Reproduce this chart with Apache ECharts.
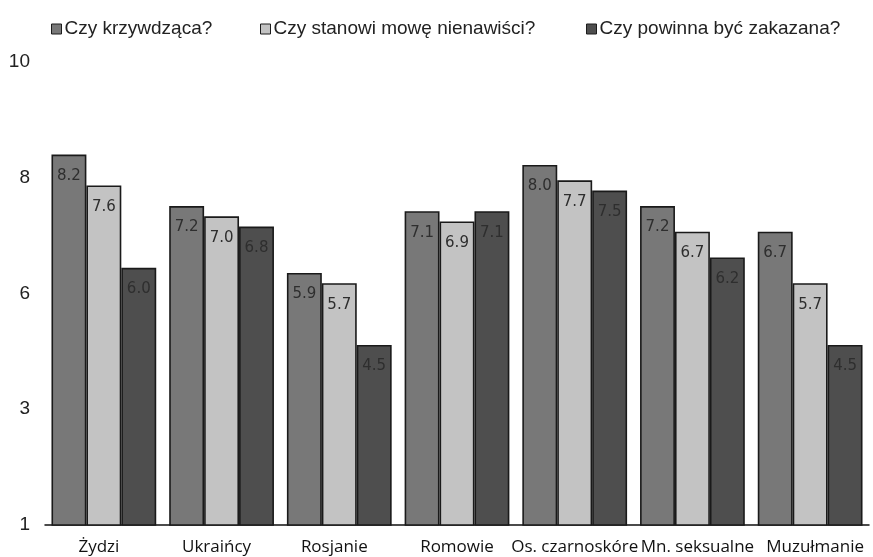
<!DOCTYPE html>
<html>
<head>
<meta charset="utf-8">
<script src="https://cdn.jsdelivr.net/npm/echarts@6/dist/echarts.min.js"></script>
<style>
html,body{margin:0;padding:0;background:#fff;}
#chart{width:873px;height:557px;}
</style>
</head>
<body>
<div id="chart"></div>
<script>
const categories = ['Żydzi', 'Ukraińcy', 'Rosjanie', 'Romowie', 'Os. czarnoskóre', 'Mn. seksualne', 'Muzułmanie'];
const seriesNames = ['Czy krzywdząca?', 'Czy stanowi mowę nienawiści?', 'Czy powinna być zakazana?'];
const krzywdzaca = [8.2, 7.2, 5.9, 7.1, 8.0, 7.2, 6.7];
const mowaNienawisci = [7.6, 7.0, 5.7, 6.9, 7.7, 6.7, 5.7];
const zakazana = [6.0, 6.8, 4.5, 7.1, 7.5, 6.2, 4.5];
const seriesValues = [krzywdzaca, mowaNienawisci, zakazana];
const colors = ['#787878', '#c3c3c3', '#4e4e4e'];
const legendLefts = [46, 255, 581];
// label style per category (slight left / right nudges like the original)
const labelStyleKeys = ['l', 'l', 'l', 'c', 'c', 'r', 'r'];

const chart = echarts.init(document.getElementById('chart'), null, {renderer: 'canvas'});

const legends = seriesNames.map((n, i) => ({
  data: [n],
  left: legendLefts[i],
  top: 14,
  itemWidth: 10,
  itemHeight: 10,
  icon: 'rect',
  selectedMode: false,
  itemStyle: {borderColor: '#1c1c1c', borderWidth: 1},
  textStyle: {fontFamily: 'Liberation Sans', fontSize: 19, color: '#222', lineHeight: 20, padding: [0, 0, 0, -2]}
}));

const series = seriesNames.map((n, i) => ({
  name: n,
  type: 'bar',
  data: seriesValues[i],
  barGap: '0%',
  barCategoryGap: '11%',
  itemStyle: {color: colors[i], borderColor: '#1a1a1a', borderWidth: 1.6},
  label: {
    show: true,
    position: 'insideTop',
    distance: 14,
    fontFamily: 'DejaVu Sans',
    fontSize: 15,
    color: '#2e2e2e',
    formatter: p => p.value.toFixed(1)
  }
}));

const labelFont = {fontFamily: 'Open Sans', fontSize: 17, color: '#111'};

chart.setOption({
  animation: false,
  backgroundColor: '#fff',
  legend: legends,
  grid: {left: 45, right: 4, top: 62, bottom: 32, containLabel: false},
  xAxis: {
    type: 'category',
    data: categories,
    axisLine: {show: true, lineStyle: {color: '#111', width: 1.5}},
    axisTick: {show: false},
    axisLabel: {
      interval: 0, margin: 14,
      fontFamily: 'Open Sans', fontSize: 17, color: '#111',
      formatter: (v, idx) => '{' + labelStyleKeys[idx] + '|' + v + '}',
      rich: {
        l: Object.assign({padding: [0, 10, 0, 0]}, labelFont),
        c: Object.assign({}, labelFont),
        r: Object.assign({padding: [0, 0, 0, 10]}, labelFont)
      }
    }
  },
  yAxis: {
    type: 'value',
    min: 1,
    max: 10,
    interval: 2.25,
    axisLine: {show: false},
    axisTick: {show: false},
    splitLine: {show: false},
    axisLabel: {margin: 15, fontFamily: 'Liberation Sans', fontSize: 19, color: '#222', formatter: v => String(Math.round(v))}
  },
  series: series
});
</script>
</body>
</html>
